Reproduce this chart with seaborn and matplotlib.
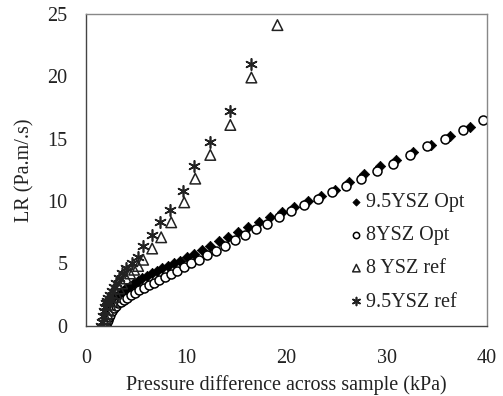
import matplotlib
matplotlib.use("Agg")
import matplotlib.pyplot as plt
import seaborn as sns
import pandas as pd

# 9.5YSZ Opt (filled diamonds)
opt95_x = [1.8, 1.9, 2.0, 2.1, 2.2, 2.3, 2.5, 2.7, 2.9, 3.1, 3.4, 3.7, 4.0, 4.4, 4.8, 5.2,
           5.6, 6.1, 6.6, 7.1, 7.6, 8.2, 8.8, 9.4, 10.1, 10.8, 11.6, 12.4, 13.3, 14.2, 15.2,
           16.2, 17.3, 18.4, 19.6, 20.8, 22.1, 23.4, 24.8, 26.2, 27.7, 29.3, 30.9, 32.6,
           34.4, 36.3, 38.3]
opt95_y = [0.0, 0.3, 0.6, 0.9, 1.2, 1.4, 1.7, 2.0, 2.2, 2.4, 2.6, 2.8, 3.0, 3.2, 3.4, 3.6,
           3.8, 4.0, 4.2, 4.4, 4.6, 4.8, 5.0, 5.2, 5.5, 5.8, 6.1, 6.4, 6.8, 7.1, 7.5,
           7.9, 8.3, 8.7, 9.1, 9.5, 10.0, 10.4, 10.9, 11.5, 12.2, 12.8, 13.3, 13.9,
           14.5, 15.2, 15.9]

# 8YSZ Opt (open circles)
opt8_x = [2.0, 2.1, 2.2, 2.3, 2.4, 2.6, 2.8, 3.0, 3.2, 3.5, 3.8, 4.1, 4.5, 4.9, 5.3, 5.8,
          6.3, 6.8, 7.3, 7.9, 8.5, 9.1, 9.8, 10.5, 11.3, 12.1, 13.0, 13.9, 14.9, 15.9,
          17.0, 18.1, 19.3, 20.5, 21.8, 23.1, 24.5, 25.9, 27.4, 29.0, 30.6, 32.3, 34.0,
          35.8, 37.6, 39.6]
opt8_y = [0.0, 0.3, 0.5, 0.7, 0.9, 1.2, 1.4, 1.6, 1.8, 1.95, 2.1, 2.25, 2.45, 2.65, 2.85, 3.05,
          3.25, 3.45, 3.65, 3.9, 4.15, 4.4, 4.7, 5.0, 5.3, 5.65, 6.0, 6.4, 6.85, 7.25,
          7.75, 8.2, 8.7, 9.2, 9.65, 10.15, 10.7, 11.2, 11.8, 12.4, 12.95, 13.7, 14.4,
          14.95, 15.7, 16.5]

# 8 YSZ ref (open triangles)
ref8_x = [1.9, 2.0, 2.1, 2.2, 2.4, 2.6, 2.8, 3.0, 3.3, 3.6, 4.0, 4.4, 4.8, 5.2, 5.7, 6.6,
          7.5, 8.5, 9.8, 10.9, 12.4, 14.4, 16.5, 19.1]
ref8_y = [0.2, 0.6, 1.0, 1.3, 1.7, 2.0, 2.3, 2.6, 3.0, 3.4, 3.8, 4.2, 4.5, 4.8, 5.3, 6.2,
          7.1, 8.3, 9.9, 11.8, 13.7, 16.1, 19.9, 24.1]

# 9.5YSZ ref (asterisks)
ref95_x = [1.5, 1.6, 1.7, 1.8, 1.9, 2.0, 2.1, 2.2, 2.4, 2.6, 2.8, 3.0, 3.3, 3.6, 4.0, 4.6, 5.2,
           5.7, 6.6, 7.4, 8.4, 9.7, 10.8, 12.4, 14.4, 16.5]
ref95_y = [0.0, 0.3, 0.8, 1.2, 1.5, 1.8, 2.0, 2.2, 2.5, 2.8, 3.1, 3.4, 3.8, 4.2, 4.6, 5.0, 5.5,
           6.4, 7.3, 8.3, 9.3, 10.8, 12.8, 14.7, 17.2, 21.0]

labels = ["9.5YSZ Opt", "8YSZ Opt", "8 YSZ ref", "9.5YSZ ref"]

sns.set_style("white")
plt.rcParams["font.family"] = ["Liberation Serif", "DejaVu Serif"]

fig = plt.figure(figsize=(5.03, 3.96), dpi=100)
ax = fig.add_axes([0.171, 0.177, 0.797, 0.788])

series = [
    (opt95_x, opt95_y, labels[0], dict(marker="D", s=28, color="black", edgecolor="black", linewidth=0.5)),
    (opt8_x, opt8_y, labels[1], dict(marker="o", s=42, facecolor="white", edgecolor="black", linewidth=1.1)),
    (ref8_x, ref8_y, labels[2], dict(marker="^", s=58, facecolor="none", edgecolor="#222222", linewidth=1.1)),
    (ref95_x, ref95_y, labels[3], dict(marker=(6, 2, 0), s=66, color="#222222", linewidth=1.2)),
]
for xs, ys, lab, kw in series:
    df = pd.DataFrame({"x": xs, "y": ys})
    sns.scatterplot(data=df, x="x", y="y", ax=ax, label=lab, **kw)

ax.set_xlim(0, 40)
ax.set_ylim(0, 25)
ax.set_xticks([0, 10, 20, 30, 40])
ax.set_yticks([0, 5, 10, 15, 20, 25])
ax.tick_params(axis="both", direction="inout", length=5, width=0.8, color="#999999",
               labelsize=14.5, labelcolor="#222222")
ax.tick_params(axis="x", pad=14)
ax.tick_params(axis="y", pad=11)
for side in ["top", "right"]:
    ax.spines[side].set_color("#888888")
    ax.spines[side].set_linewidth(1.0)
for side in ["left", "bottom"]:
    ax.spines[side].set_color("#444444")
    ax.spines[side].set_linewidth(1.0)

ax.set_xlabel("Pressure difference across sample (kPa)", fontsize=14.5, color="#222222", labelpad=5)
ax.set_ylabel("LR (Pa.m/.s)", fontsize=14.5, color="#222222", labelpad=9)

leg = ax.legend(loc="lower right", bbox_to_anchor=(0.965, 0.02), frameon=False, fontsize=14.5,
                handletextpad=0.0, labelspacing=0.7, markerscale=0.7, handlelength=1.0,
                borderaxespad=0.0)
for t in leg.get_texts():
    t.set_color("#222222")

fig.savefig("out.png", dpi=100)
